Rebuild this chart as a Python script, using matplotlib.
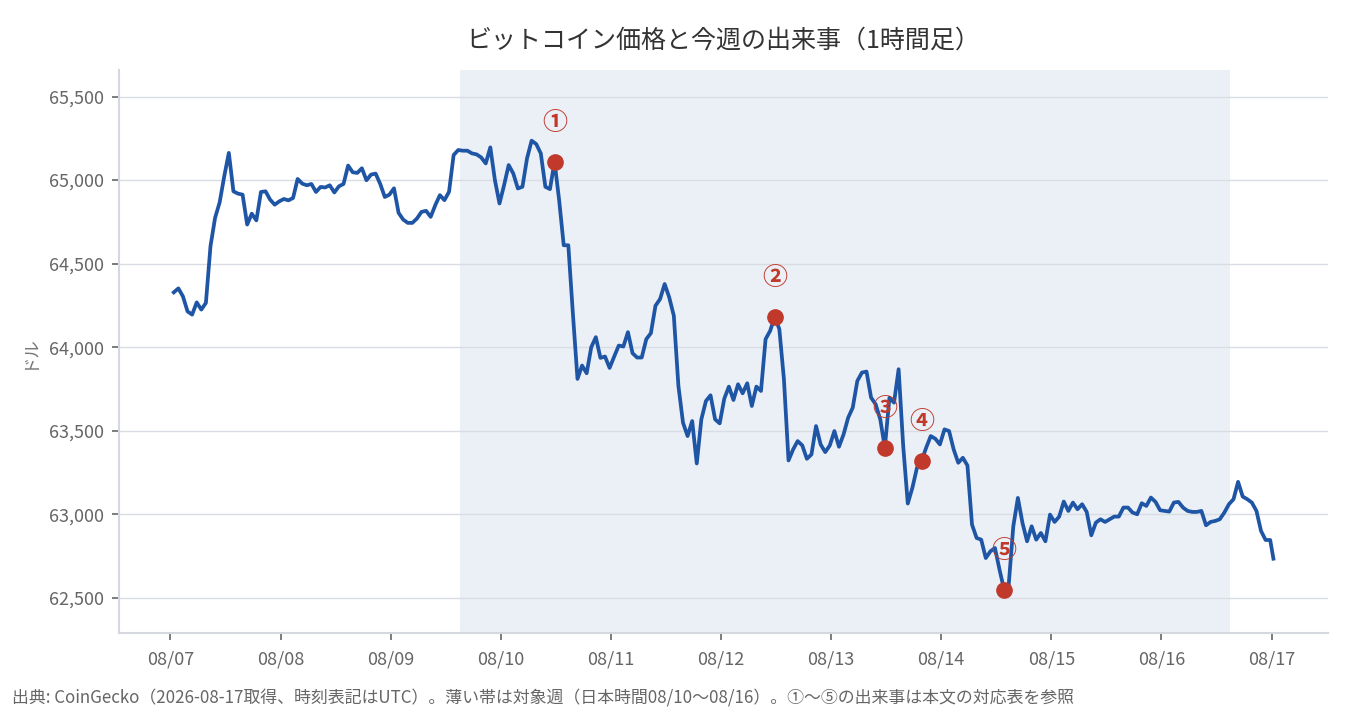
import pandas as pd
import matplotlib
matplotlib.use('Agg')
from matplotlib import pyplot as plt
import matplotlib.dates as mdates
from matplotlib.ticker import FuncFormatter

plt.rcParams['font.family'] = ['Noto Sans CJK JP', 'DejaVu Sans']

### データ (1時間足, 08/07 00:43 UTC から)
price = [
    64328, 64352, 64304, 64214, 64195, 64268, 64225, 64265, 64604, 64774,
    64867, 65023, 65163, 64933, 64919, 64913, 64734, 64799, 64759, 64929,
    64933, 64883, 64853, 64873, 64887, 64879, 64893, 65007, 64979, 64969,
    64977, 64929, 64959, 64956, 64969, 64926, 64963, 64977, 65087, 65047,
    65043, 65071, 64999, 65033, 65039, 64977, 64899, 64913, 64951, 64804,
    # 08/09
    64764, 64744, 64744, 64770, 64810, 64816, 64780, 64850, 64910, 64880,
    64930, 65150, 65180, 65176, 65176, 65160, 65154, 65136, 65100, 65196,
    65000, 64860, 64970, 65090, 65040, 64950, 64960, 65130, 65236, 65216,
    65160, 64960, 64946, 65110, 64880, 64610, 64610, 64200, 63810, 63890,
    63844, 64000, 64060, 63936, 63944, 63876, 63944, 64010, 64004, 64090,
    # 08/11
    63964, 63938, 63938, 64048, 64084, 64248, 64288, 64378, 64298, 64188,
    63768, 63548, 63468, 63558, 63304, 63568, 63678, 63712, 63568, 63544,
    63692, 63764, 63684, 63778, 63724, 63784, 63648, 63764, 63738, 64048,
    64098, 64183, 64108, 63808, 63322, 63388, 63438, 63412, 63332, 63358,
    63528, 63418, 63372, 63412, 63498, 63404,
    # 08/13
    63478, 63578, 63638, 63798, 63848, 63854, 63698, 63658, 63568, 63398,
    63698, 63668, 63868, 63408, 63064, 63158, 63278, 63320, 63398, 63468,
    63452, 63418, 63508, 63498, 63388, 63308, 63338, 63292, 62938, 62858,
    62848, 62738, 62778, 62798, 62668, 62548, 62578, 62928, 63098, 62948,
    62838, 62928, 62848, 62888, 62838, 62998,
    # 08/15
    62954, 62986, 63076, 63020, 63070, 63030, 63060, 63014, 62874, 62950,
    62970, 62954, 62970, 62986, 62986, 63040, 63040, 63010, 63000, 63066,
    63050, 63100, 63074, 63024, 63020, 63016, 63070, 63074, 63040, 63020,
    63014, 63014, 63020, 62934, 62954, 62960, 62970, 63010, 63060, 63090,
    63194, 63106, 63090, 63070, 63020, 62900, 62846, 62846,
]
last_price = 62734   # 最終取得値 (08/17 00:25頃)

event_idx = [83, 131, 155, 163, 181]
event_labels = ['①', '②', '③', '④', '⑤']

week_start = '2026-08-09 15:00'   # JST 08/10 00:00
week_end = '2026-08-16 15:00'     # JST 08/17 00:00

times = list(pd.date_range('2026-08-07 00:43', periods=len(price), freq='h'))
times.append(pd.Timestamp('2026-08-17 00:25'))
values = price + [last_price]

LINE = '#1f55a5'
RED = '#c0392b'

fig = plt.figure(figsize=(13.5, 7.2), dpi=100)
ax = fig.add_axes([0.088, 0.121, 0.896, 0.782])

ax.axvspan(pd.Timestamp(week_start), pd.Timestamp(week_end), color='#ebf0f7', zorder=0, lw=0)
ax.plot(times, values, color=LINE, lw=2.7, zorder=3, solid_joinstyle='round')

for i, lab in zip(event_idx, event_labels):
    ax.plot(times[i], values[i], 'o', color=RED, ms=11, zorder=4)
    ax.annotate(lab, (times[i], values[i]), xytext=(0, 28), textcoords='offset points',
                ha='center', va='center', color=RED, fontsize=18, fontweight='bold', zorder=5)

ax.set_ylim(62290, 65660)
ax.set_yticks([62500, 63000, 63500, 64000, 64500, 65000, 65500])
ax.yaxis.set_major_formatter(FuncFormatter(lambda v, p: f'{int(v):,}'))
ax.xaxis.set_major_locator(mdates.DayLocator())
ax.xaxis.set_major_formatter(mdates.DateFormatter('%m/%d'))
ax.margins(x=0.05)

ax.grid(axis='y', color='#d9dce3', lw=1)
ax.set_axisbelow(True)
for s in ['top', 'right']:
    ax.spines[s].set_visible(False)
for s in ['left', 'bottom']:
    ax.spines[s].set_color('#d5d9df')
    ax.spines[s].set_linewidth(1.5)
ax.tick_params(axis='both', colors='#666666', labelsize=13, length=5, width=1.2, pad=6)
ax.tick_params(axis='x', pad=8)

ax.set_ylabel('ドル', color='#777777', fontsize=12.5, labelpad=8)
ax.set_title('ビットコイン価格と今週の出来事（1時間足）', fontsize=18, color='#333333', pad=16)

fig.text(0.009, 0.018, '出典: CoinGecko（2026-08-17取得、時刻表記はUTC）。薄い帯は対象週（日本時間08/10〜08/16）。①〜⑤の出来事は本文の対応表を参照',
         fontsize=12.2, color='#666666', ha='left', va='bottom')

fig.savefig('out.png', dpi=100)
